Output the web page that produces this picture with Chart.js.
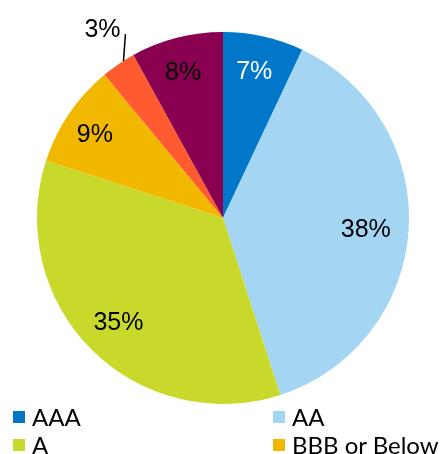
<!DOCTYPE html>
<html>
<head>
<meta charset="utf-8">
<script src="https://cdn.jsdelivr.net/npm/chart.js@4.4.0/dist/chart.umd.min.js"></script>
<style>
  html, body { margin: 0; padding: 0; background: #fff; overflow: hidden; }
  #wrap { position: relative; width: 445px; height: 454px; }
  #legend { position: absolute; left: 13px; top: 403px; width: 432px;
            font-family: Lato, "DejaVu Sans", sans-serif; font-size: 24px; color: #000; }
  .item { position: absolute; display: flex; align-items: center; white-space: nowrap; line-height: 28px; }
  .box { width: 12px; height: 12px; margin-right: 7px; }
</style>
</head>
<body>
<div id="wrap">
  <canvas id="c" width="445" height="454"></canvas>
  <div id="legend"></div>
</div>
<script>
// Credit quality breakdown (percent of portfolio)
const categories = ['AAA', 'AA', 'A', 'BBB or Below', 'Not Rated', 'Cash'];
const shares = [7, 38, 35, 9, 3, 8];
const colors = ['#0077C8', '#A4D6F3', '#C9D92C', '#F2B800', '#FF5A30', '#8A0050'];
const labelColors = ['#ffffff', '#000000', '#000000', '#000000', '#000000', '#000000'];
const legendCount = 4;

// Percent labels drawn inside each slice; the small slice gets an outside label with a leader line
const sliceLabels = {
  id: 'sliceLabels',
  afterDatasetsDraw(chart) {
    const ctx = chart.ctx;
    const meta = chart.getDatasetMeta(0);
    ctx.save();
    ctx.font = '25px "Liberation Sans", Arial, sans-serif';
    ctx.textAlign = 'center';
    ctx.textBaseline = 'middle';
    meta.data.forEach((arc, i) => {
      const p = arc.getProps(['x', 'y', 'startAngle', 'endAngle', 'outerRadius'], true);
      const mid = (p.startAngle + p.endAngle) / 2;
      const text = shares[i] + '%';
      if (shares[i] < 5) {
        const ex = p.x + Math.cos(mid) * p.outerRadius;
        const ey = p.y + Math.sin(mid) * p.outerRadius;
        ctx.strokeStyle = '#000';
        ctx.lineWidth = 1.5;
        ctx.beginPath();
        ctx.moveTo(ex + 5, ey - 3);
        ctx.lineTo(ex + 7, ey - 30);
        ctx.stroke();
        ctx.fillStyle = '#000';
        ctx.fillText(text, ex - 16, ey - 34);
      } else {
        const r = p.outerRadius * (shares[i] < 10 ? 0.82 : 0.78);
        ctx.fillStyle = labelColors[i];
        ctx.fillText(text, p.x + Math.cos(mid) * r - 2, p.y + Math.sin(mid) * r + 3);
      }
    });
    ctx.restore();
  }
};

new Chart(document.getElementById('c'), {
  type: 'pie',
  data: {
    labels: categories,
    datasets: [{
      data: shares,
      backgroundColor: colors,
      borderWidth: 0
    }]
  },
  options: {
    responsive: false,
    animation: false,
    layout: { padding: { top: 32, bottom: 50, left: 37, right: 36 } },
    plugins: {
      legend: { display: false },
      tooltip: { enabled: false }
    }
  },
  plugins: [sliceLabels]
});

// Two-column legend for the main rating groups
const legend = document.getElementById('legend');
categories.slice(0, legendCount).forEach((name, i) => {
  const item = document.createElement('div');
  item.className = 'item';
  item.style.left = (i % 2 === 0 ? 0 : 260) + 'px';
  item.style.top = (Math.floor(i / 2) * 28) + 'px';
  const box = document.createElement('span');
  box.className = 'box';
  box.style.background = colors[i];
  const label = document.createElement('span');
  label.textContent = name;
  item.appendChild(box);
  item.appendChild(label);
  legend.appendChild(item);
});
</script>
</body>
</html>
